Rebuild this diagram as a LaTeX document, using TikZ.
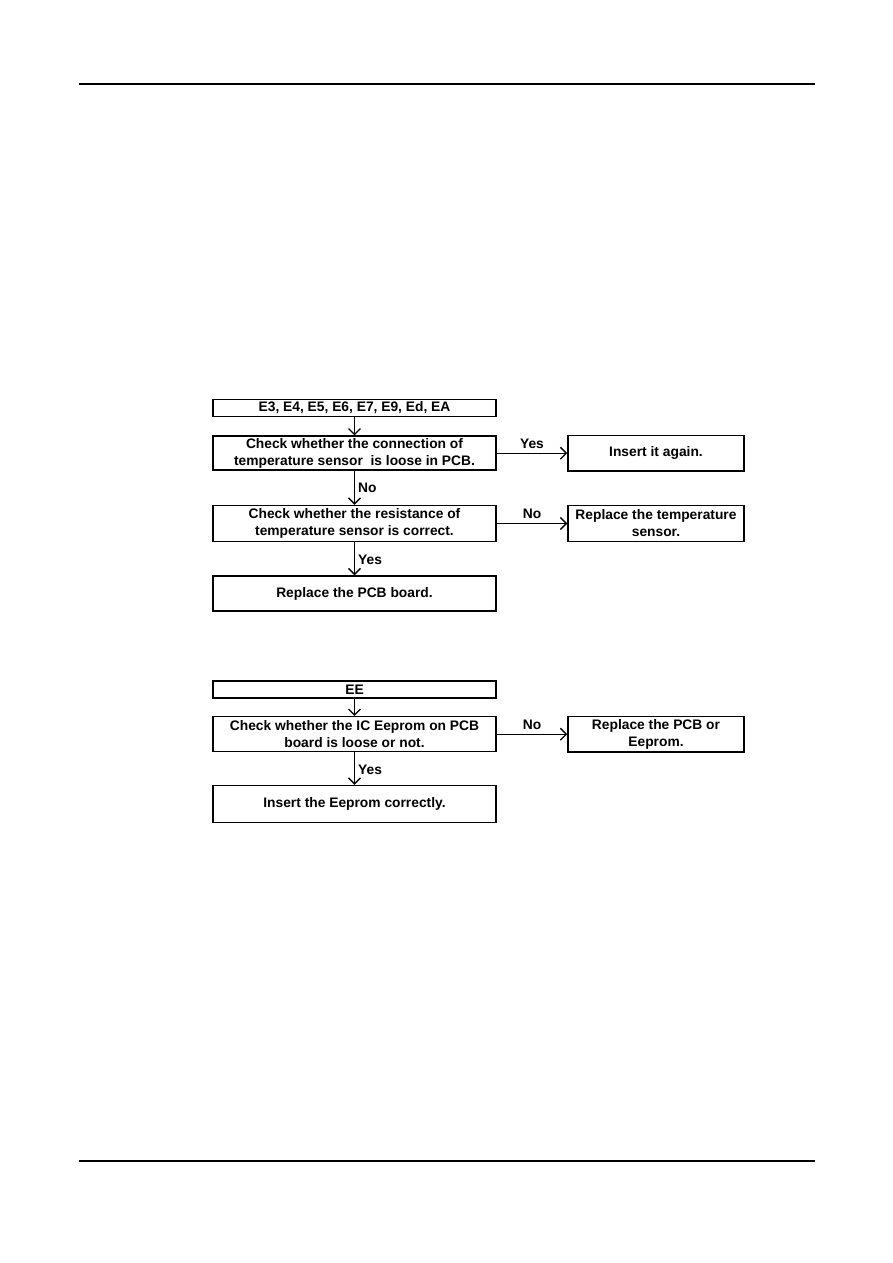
\documentclass[tikz,border=0pt]{standalone}
\usepackage{fontspec}
\setmainfont{Liberation Sans}
\usetikzlibrary{arrows.meta}
\begin{document}
\begin{tikzpicture}[x=1pt,y=-1pt,
  box/.style={draw,line width=1.5pt,rectangle,inner sep=0pt,align=center,
    font=\fontsize{13.8}{17}\selectfont\bfseries},
  lbox/.style={box,minimum width=283pt},
  rbox/.style={box,minimum width=176pt},
  arr/.style={line width=1.3pt,-{Straight Barb[length=6pt,width=12pt,line width=1.3pt]}},
  lab/.style={font=\fontsize{13.8}{16}\selectfont\bfseries,inner sep=0pt}]
\useasboundingbox (0,0) rectangle (893,1263);
\draw[line width=1.6pt] (79,84) -- (815,84);
\draw[line width=2.8pt] (79,1161) -- (815,1161);

\node[lbox,minimum height=17pt] (a) at (354.5,408) {E3, E4, E5, E6, E7, E9, Ed, EA};
\node[lbox,minimum height=34pt] (b) at (354.5,453.2) {Check whether the connection of\\temperature sensor\ \ is loose in PCB.};
\node[lbox,minimum height=36pt] (c) at (354.5,523.5) {Check whether the resistance of\\temperature sensor is correct.};
\node[lbox,minimum height=35pt] (d) at (354.5,593.5) {Replace the PCB board.};
\node[rbox,minimum height=35.5pt] (r1) at (656,453.2) {Insert it again.};
\node[rbox,minimum height=35.7pt] (r2) at (656,523.5) {Replace the temperature\\sensor.};

\draw[arr] (a) -- (b);
\draw[arr] (b) -- node[lab,right=3pt]{No} (c);
\draw[arr] (c) -- node[lab,right=3pt,yshift=-1pt]{Yes} (d);
\draw[arr] (b.east) -- node[lab,above=4pt]{Yes} (r1.west);
\draw[arr] (c.east) -- node[lab,above=4pt]{No} (r2.west);

\node[lbox,minimum height=17pt] (e) at (354.5,689.5) {EE};
\node[lbox,minimum height=35pt] (f) at (354.5,734.2) {Check whether the IC Eeprom on PCB\\board is loose or not.};
\node[lbox,minimum height=37pt] (g) at (354.5,804) {Insert the Eeprom correctly.};
\node[rbox,minimum height=35.6pt] (r3) at (656,734.2) {Replace the PCB or\\Eeprom.};

\draw[arr] (e) -- (f);
\draw[arr] (f) -- node[lab,right=3pt,yshift=-1pt]{Yes} (g);
\draw[arr] (f.east) -- node[lab,above=4pt]{No} (r3.west);
\end{tikzpicture}
\end{document}
